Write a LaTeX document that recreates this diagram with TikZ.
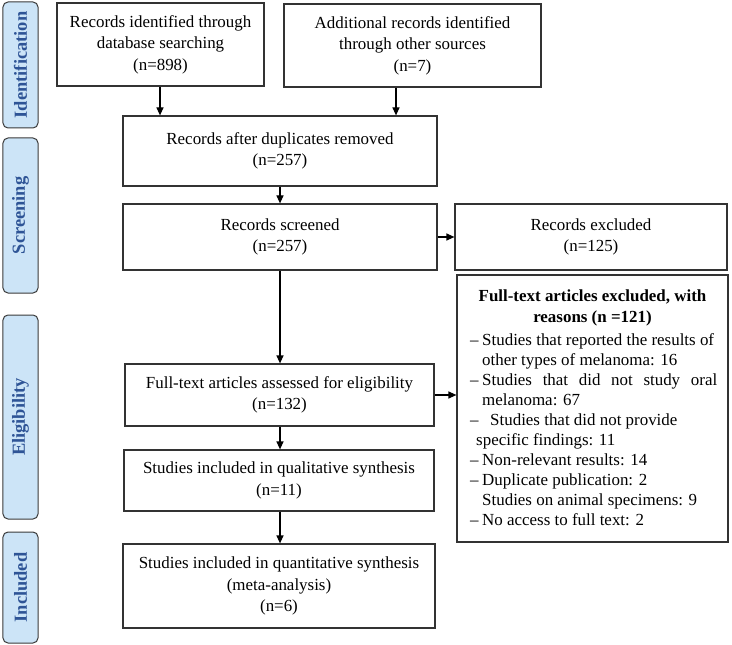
\documentclass[tikz,border=0pt]{standalone}
\usepackage{fontspec}
\setmainfont{Liberation Serif}
\usetikzlibrary{arrows.meta}
\definecolor{sidefill}{HTML}{CCE4F7}
\definecolor{sidetext}{HTML}{2E5496}
\definecolor{sideline}{HTML}{3A3A3A}
\tikzset{
  box/.style={draw=black!80, line width=1.2bp, rectangle, align=center, inner sep=2bp,
    font=\fontsize{17}{21.5}\selectfont},
  side/.style={draw=sideline, line width=1bp, fill=sidefill, rounded corners=5bp,
    minimum width=35bp, inner sep=0},
  sidetxt/.style={rotate=90, text=sidetext, inner sep=0, font=\bfseries\fontsize{18.5}{20}\selectfont},
  arr/.style={draw=black, line width=1.2bp, -{Triangle[length=8bp,width=7bp]}}
}
\begin{document}
\begin{tikzpicture}[x=1bp,y=-1bp]
\useasboundingbox (0,0) rectangle (732,645);
% side labels
\node[side, minimum height=126bp] (sid) at (20.5,65) {};
\node[sidetxt] (sidt) at (sid.center) {Identification};
\node[side, minimum height=155bp] (sscr) at (20.5,215.5) {};
\node[sidetxt] (sscrt) at (sscr.center) {Screening};
\node[side, minimum height=204bp] (selg) at (20.5,417) {};
\node[sidetxt] (selgt) at (selg.center) {Eligibility};
\node[side, minimum height=111bp] (sinc) at (20.5,587.5) {};
\node[sidetxt] (sinct) at (sinc.center) {Included};
% main boxes
\node[box, minimum width=207bp, minimum height=83bp] (b1) at (160.5,44.5) {Records identified through\\database searching\\(n=898)};
\node[box, minimum width=257bp, minimum height=83bp] (b2) at (412.5,45.5) {Additional records identified\\through other sources\\(n=7)};
\node[box, minimum width=314bp, minimum height=70bp] (b3) at (280,151) {Records after duplicates removed\\(n=257)};
\node[box, minimum width=314bp, minimum height=66bp] (b4) at (280,237) {Records screened\\(n=257)};
\node[box, minimum width=272bp, minimum height=66bp] (ex1) at (591,237) {Records excluded\\(n=125)};
\node[box, minimum width=309bp, minimum height=62bp] (b5) at (279.5,395) {Full-text articles assessed for eligibility\\(n=132)};
\node[box, minimum width=310bp, minimum height=61bp] (b6) at (279,480.5) {Studies included in qualitative synthesis\\(n=11)};
\node[box, minimum width=312bp, minimum height=84bp] (b7) at (279,586) {Studies included in quantitative synthesis\\(meta-analysis)\\(n=6)};
\node[box, minimum width=271bp, minimum height=267bp] (ex2) at (592.5,408.5) {};
\node[anchor=north, align=center, inner sep=0, font=\bfseries\fontsize{17}{21}\selectfont] (ex2t) at (592.5,290) {Full-text articles excluded, with\\reasons (n =121)};
\node[anchor=north west, align=left, inner sep=0, font=\fontsize{17}{20.1}\selectfont] (ex2l) at (470,333) {%
\makebox[12bp][l]{–}Studies that reported the results of\\
\hspace*{12bp}other types of melanoma: 16\\
\makebox[12bp][l]{–}\makebox[235bp][s]{Studies that did not study oral}\\
\hspace*{12bp}melanoma: 67\\
\makebox[20bp][l]{–}Studies that did not provide\\
\hspace*{6bp}specific findings: 11\\
\makebox[12bp][l]{–}Non-relevant results: 14\\
\makebox[12bp][l]{–}Duplicate publication: 2\\
\hspace*{12bp}Studies on animal specimens: 9\\
\makebox[12bp][l]{–}No access to full text: 2};
% arrows
\draw[arr] (b1.south -| 160,0) -- (b3.north -| 160,0);
\draw[arr] (b2.south -| 396,0) -- (b3.north -| 396,0);
\draw[arr] (b3) -- (b4);
\draw[arr] (b4) -- (ex1);
\draw[arr] (b4.south -| 280,0) -- (b5.north -| 280,0);
\draw[arr] (b5.east) -- (b5.east -| ex2.west);
\draw[arr] (b5.south -| 280,0) -- (b6.north -| 280,0);
\draw[arr] (b6.south -| 280,0) -- (b7.north -| 280,0);
\end{tikzpicture}
\end{document}
